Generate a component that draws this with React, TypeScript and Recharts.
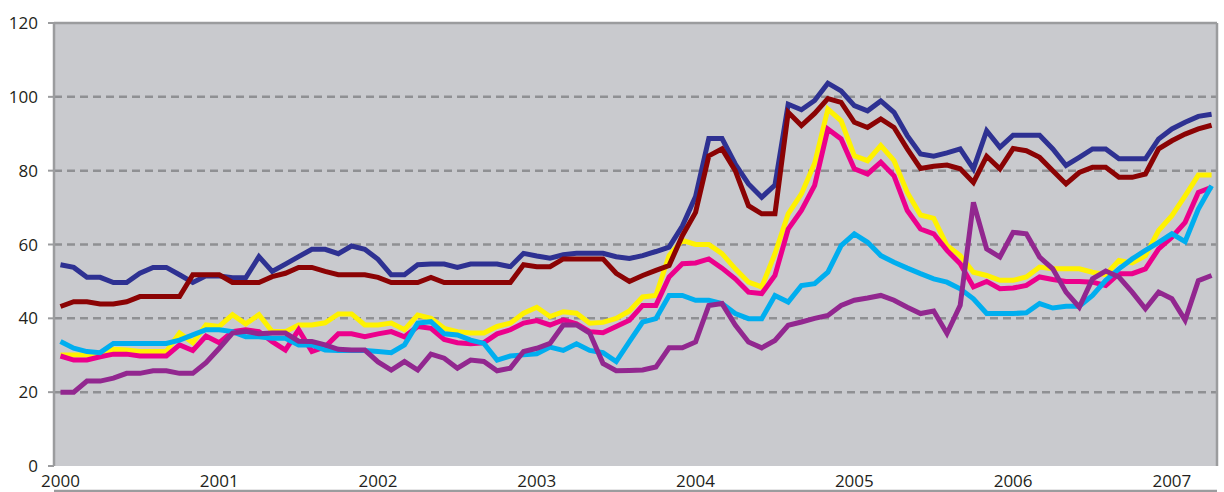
import React from 'react';
import { LineChart, Line, XAxis, YAxis, CartesianGrid, ReferenceLine } from 'recharts';

const navy = [54.5,53.8,51.1,51.1,49.7,49.7,52.2,53.8,53.8,51.8,49.7,51.5,51.5,51,51,56.7,52.7,54.7,56.7,58.7,58.7,57.5,59.6,58.7,56,51.8,51.8,54.5,54.7,54.7,53.8,54.7,54.7,54.7,54,57.6,56.9,56.3,57.2,57.6,57.6,57.6,56.7,56.2,57,58.1,59.3,65,73,88.7,88.7,81.8,76.4,72.8,76.1,98,96.5,99,103.7,101.6,97.6,96.2,98.9,95.8,89.5,84.5,83.9,84.8,85.9,80.5,90.8,86.3,89.6,89.6,89.6,85.9,81.4,83.6,85.9,85.9,83.2,83.2,83.2,88.6,91.3,93.1,94.7,95.3];
const darkRed = [43.2,44.5,44.5,43.9,43.9,44.5,45.9,45.9,45.9,45.9,51.8,51.8,51.8,49.7,49.7,49.7,51.3,52.2,53.8,53.8,52.7,51.8,51.8,51.8,51.1,49.7,49.7,49.7,51.1,49.7,49.7,49.7,49.7,49.7,49.7,54.5,54,54,56.1,56.1,56.1,56.1,52.2,50,51.6,53,54.3,62.4,68.7,84,85.9,80,70.5,68.3,68.3,95.8,92.2,95.5,99.5,98.5,93.1,91.7,94,91.7,85.9,80.6,81.2,81.5,80.5,76.8,83.9,80.5,86,85.4,83.6,80,76.4,79.5,80.9,80.9,78.2,78.2,79.1,85.9,88.1,89.9,91.3,92.3];
const yellow = [30.1,30.1,30.1,30.5,31.6,31.4,31,31,31,36,33.4,38.2,37.8,41,38.5,41,36.4,36.4,38.2,38.2,38.8,41.2,41.2,38.2,38.2,38.7,36.9,40.9,40,37.3,36.4,36,36,37.8,38.7,41.4,43,40.5,41.8,41.4,38.7,38.9,40,42,45.8,46.2,57,61.1,60,60,57.5,53.4,49.8,48.5,57.5,68.3,73.7,82,96.7,93.5,84,82.7,86.8,82.7,74.1,68,67.1,59.7,57,52.5,51.6,50.3,50.3,51.2,53.9,53.4,53.4,53.4,52.5,51.8,55.7,55,57,63.8,67.8,73.2,78.8,78.8];
const pink = [29.8,28.7,28.7,29.6,30.3,30.3,29.8,29.8,29.8,32.8,31.3,35.2,33.4,36.4,36.9,36.4,33.7,31.4,36.9,31,32.3,35.8,35.8,35,35.8,36.4,35,37.8,37.3,34.3,33.4,33.1,33.4,35.8,36.9,38.7,39.4,38.2,39.6,38.5,36.4,36.1,37.8,39.5,43.5,43.5,51.2,54.8,55,56.1,53.6,50.7,47.1,46.7,51.6,64.2,69.2,76,91.3,88.6,80.5,79.1,82.3,78.6,69.2,64.2,62.9,58.4,54.8,48.5,50,48,48.2,48.9,51.2,50.5,50,50,49.8,48.9,52.1,52.1,53.4,58.8,62,66,74.1,75.5];
const cyan = [33.7,31.9,31,30.7,33.2,33.2,33.2,33.2,33.2,34.1,35.5,36.9,36.9,36.4,35,35,34.6,34.6,32.8,32.8,31.4,31.3,31.3,31.3,31,30.7,32.8,38.7,39.1,35.8,35.5,34.1,33.2,28.7,29.8,30.1,30.4,32.2,31.3,33.1,31.3,30.7,28.3,33.7,39,39.9,46.2,46.2,44.9,44.9,44,41.3,39.9,39.9,46.2,44.4,48.9,49.4,52.5,59.7,62.9,60.6,57,55.2,53.6,52.1,50.7,49.8,48,45.3,41.3,41.3,41.3,41.5,44,42.8,43.3,43.3,46.2,50.3,53.4,56.1,58.4,60.6,62.9,60.8,69.6,75.9];
const purple = [20,20,23,23,23.8,25.1,25.1,25.8,25.8,25.1,25.1,28,31.9,36,36.5,35.8,36,36,33.8,33.7,32.8,31.6,31.4,31.4,28.2,26,28.3,26,30.3,29.2,26.5,28.7,28.3,25.8,26.5,31,31.9,33.2,38.2,38.2,36,27.8,25.8,25.9,26,26.8,32,32,33.6,43.5,44,38.2,33.6,32,34,38.1,39,40,40.8,43.5,44.9,45.5,46.2,44.9,43,41.3,42,35.9,43.5,71.4,58.8,56.6,63.3,62.9,56.6,53.4,47.1,43,50.7,52.8,51.2,47.1,42.6,47.1,45.3,39.5,50.2,51.6];

const yearLabels = ['2000', '2001', '2002', '2003', '2004', '2005', '2006', '2007'];
const yearTickMonths = [0, 12, 24, 36, 48, 60, 72, 84];
const yTicks = [0, 20, 40, 60, 80, 100, 120];
const gridValues = [20, 40, 60, 80, 100];

const data = navy.map((_, i) => ({
  m: i,
  navy: navy[i],
  darkRed: darkRed[i],
  yellow: yellow[i],
  pink: pink[i],
  cyan: cyan[i],
  purple: purple[i],
}));

const X_MIN = -0.49;
const X_MAX = 87.41;
const MINOR_COUNT = 87;
const minorTicks = Array.from({ length: MINOR_COUNT + 1 }, (_, k) => k);

const AXIS = '#9b9c9e';
const FONT = { fontSize: 17, fill: '#231f20', fontFamily: 'Open Sans' };

export default function App() {
  return (
    <div style={{ position: 'absolute', left: 0, top: 0, width: 1224, height: 492, background: '#ffffff' }}>
      <LineChart width={1224} height={492} data={data} margin={{ top: 23, right: 7, bottom: 0, left: 0 }}>
        <CartesianGrid
          horizontal
          vertical={false}
          horizontalValues={gridValues}
          fill="#c9cace"
          fillOpacity={1}
          stroke="#8f9093"
          strokeWidth={2.5}
          strokeDasharray="8 5"
        />
        <XAxis
          xAxisId="minor"
          type="number"
          dataKey="m"
          domain={[0, MINOR_COUNT]}
          ticks={minorTicks}
          interval={0}
          tick={false}
          tickSize={7}
          tickLine={{ stroke: AXIS, strokeWidth: 2 }}
          axisLine={{ stroke: AXIS, strokeWidth: 2.5 }}
          height={1}
          allowDataOverflow
        />
        <XAxis
          type="number"
          dataKey="m"
          domain={[X_MIN, X_MAX]}
          ticks={yearTickMonths}
          interval={0}
          tickFormatter={(v: number) => yearLabels[yearTickMonths.indexOf(v)] ?? ''}
          tick={FONT}
          tickLine={false}
          axisLine={false}
          tickSize={0}
          tickMargin={9}
          height={25}
          allowDataOverflow
        />
        <YAxis
          type="number"
          domain={[0, 120]}
          ticks={yTicks}
          interval={0}
          width={54}
          tick={FONT}
          tickSize={6}
          tickMargin={10}
          tickLine={{ stroke: AXIS, strokeWidth: 2 }}
          axisLine={{ stroke: AXIS, strokeWidth: 2.5 }}
          allowDataOverflow
        />
        <ReferenceLine y={120} stroke={AXIS} strokeWidth={2.5} />
        <ReferenceLine x={X_MAX} stroke={AXIS} strokeWidth={2.5} />
        <Line type="linear" dataKey="yellow" stroke="#fff200" strokeWidth={5} dot={false} isAnimationActive={false} strokeLinejoin="miter" />
        <Line type="linear" dataKey="pink" stroke="#ec008c" strokeWidth={5} dot={false} isAnimationActive={false} strokeLinejoin="miter" />
        <Line type="linear" dataKey="cyan" stroke="#00aeef" strokeWidth={5} dot={false} isAnimationActive={false} strokeLinejoin="miter" />
        <Line type="linear" dataKey="purple" stroke="#92278f" strokeWidth={5} dot={false} isAnimationActive={false} strokeLinejoin="miter" />
        <Line type="linear" dataKey="navy" stroke="#2e3192" strokeWidth={5} dot={false} isAnimationActive={false} strokeLinejoin="miter" />
        <Line type="linear" dataKey="darkRed" stroke="#8b0304" strokeWidth={5} dot={false} isAnimationActive={false} strokeLinejoin="miter" />
      </LineChart>
    </div>
  );
}
